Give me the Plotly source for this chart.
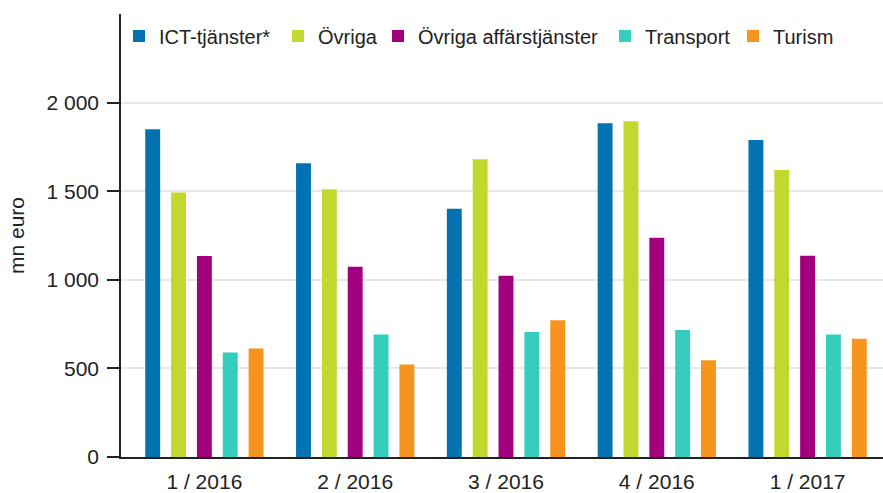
import plotly.graph_objects as go

categories = ["1 / 2016", "2 / 2016", "3 / 2016", "4 / 2016", "1 / 2017"]
series_names = ["ICT-tjänster*", "Övriga", "Övriga affärstjänster", "Transport", "Turism"]
ict = [1850, 1658, 1401, 1884, 1789]
ovriga = [1492, 1511, 1680, 1895, 1620]
ovriga_aff = [1134, 1073, 1023, 1237, 1136]
transport = [590, 691, 706, 716, 691]
turism = [612, 522, 772, 546, 667]
colors = ["#0073b0", "#c3d82e", "#a3007f", "#35cebd", "#f7941d"]

y_tickvals = [0, 500, 1000, 1500, 2000]
y_ticktext = ["0", "500", "1 000", "1 500", "2 000"]

values = [ict, ovriga, ovriga_aff, transport, turism]

W, H = 883, 493
ML, MR, MT, MB = 121, 0, 14, 36
PW, PH = W - ML - MR, H - MT - MB
legend_ids = ["legend", "legend2", "legend3", "legend4", "legend5"]
legend_left_px = [119, 278, 378, 605, 733]
legend_mid_y_px = 36

fig = go.Figure()
for name, vals, col, lid in zip(series_names, values, colors, legend_ids):
    fig.add_trace(go.Bar(name=name, x=categories, y=vals, legend=lid,
                         marker=dict(color=col, line=dict(width=0))))

font_family = "Liberation Sans, Arial, sans-serif"
legend_layouts = {}
for lid, px in zip(legend_ids, legend_left_px):
    legend_layouts[lid] = dict(
        orientation="h", xref="paper", yref="paper",
        x=(px - ML) / PW, xanchor="left",
        y=(H - MB - legend_mid_y_px) / PH, yanchor="middle",
        font=dict(size=20, color="#222222"), bgcolor="rgba(0,0,0,0)",
        borderwidth=0, itemclick=False, itemdoubleclick=False)

fig.update_layout(
    width=W, height=H,
    margin=dict(l=ML, r=MR, t=MT, b=MB),
    plot_bgcolor="white", paper_bgcolor="white",
    barmode="group", bargap=0.143, bargroupgap=0.423,
    font=dict(family=font_family, size=21, color="#222222"),
    showlegend=True,
    xaxis=dict(type="category", range=[-0.553, 4.5], showgrid=False,
               showline=True, linecolor="#222222", linewidth=1.5,
               ticks="outside", ticklen=5, tickcolor="rgba(0,0,0,0)",
               tickfont=dict(size=21, color="#222222")),
    yaxis=dict(range=[0, 2500], tickvals=y_tickvals, ticktext=y_ticktext,
               showgrid=True, gridcolor="#e8e8e8", gridwidth=1.5,
               showline=True, linecolor="#222222", linewidth=1.5,
               ticks="outside", ticklen=12, tickcolor="#222222", tickwidth=1.5,
               zeroline=False, ticklabelstandoff=4,
               tickfont=dict(size=21, color="#222222"),
               title=dict(text="mn euro", font=dict(size=21, color="#222222"), standoff=16)),
    **legend_layouts,
)

fig.write_html("out.html", config={"displayModeBar": False},
               post_script="document.body.style.margin='0';")
